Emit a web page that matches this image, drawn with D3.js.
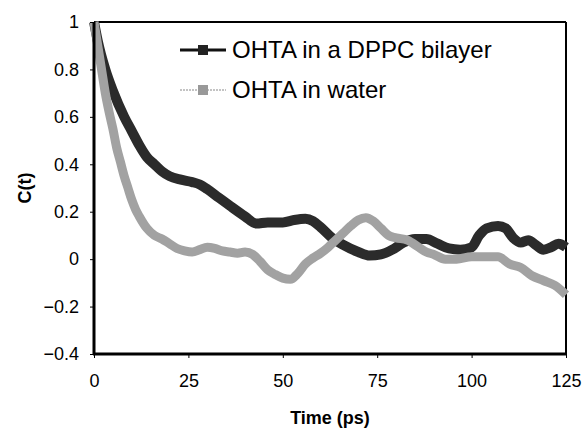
<!DOCTYPE html>
<html>
<head>
<meta charset="utf-8">
<script src="https://cdn.jsdelivr.net/npm/d3@7"></script>
<style>
  body { margin: 0; background: #fff; }
  text { font-family: "Liberation Sans", Arial, sans-serif; }
</style>
</head>
<body>
<script>
// data
const seriesNames = ["OHTA in a DPPC bilayer", "OHTA in water"];
const bilayerT = [0, 1, 3, 5, 8, 10, 12, 14, 16, 18, 20, 23, 26, 28, 30, 33, 36, 40, 43, 46, 50, 53, 56, 58, 60, 63, 66, 70, 73, 76, 79, 82, 85, 88, 91, 94, 97, 100, 102, 104, 107, 109, 111, 113, 115, 117, 119, 121, 123, 125];
const bilayerC = [1.0, 0.92, 0.8, 0.71, 0.6, 0.54, 0.48, 0.43, 0.40, 0.37, 0.35, 0.335, 0.325, 0.315, 0.295, 0.26, 0.225, 0.18, 0.15, 0.155, 0.155, 0.165, 0.17, 0.16, 0.135, 0.09, 0.06, 0.03, 0.015, 0.02, 0.04, 0.07, 0.085, 0.085, 0.065, 0.045, 0.04, 0.05, 0.1, 0.13, 0.14, 0.13, 0.09, 0.07, 0.08, 0.06, 0.04, 0.05, 0.065, 0.05];
const waterT = [0, 1, 2, 3, 4, 5, 6, 7, 8, 9, 10, 11, 12, 14, 16, 18, 20, 22, 24, 26, 28, 30, 32, 34, 36, 38, 40, 42, 44, 46, 48, 50, 52, 54, 56, 58, 60, 62, 64, 66, 68, 70, 72, 74, 76, 78, 80, 83, 86, 88, 90, 93, 96, 100, 104, 107, 110, 113, 116, 119, 122, 125];
const waterC = [1.0, 0.9, 0.8, 0.7, 0.62, 0.55, 0.47, 0.41, 0.35, 0.3, 0.25, 0.21, 0.18, 0.13, 0.1, 0.085, 0.065, 0.045, 0.035, 0.03, 0.04, 0.05, 0.045, 0.035, 0.03, 0.025, 0.03, 0.02, -0.01, -0.045, -0.065, -0.08, -0.085, -0.06, -0.02, 0.005, 0.025, 0.05, 0.08, 0.11, 0.14, 0.165, 0.175, 0.16, 0.13, 0.1, 0.09, 0.08, 0.05, 0.03, 0.02, 0.0, 0.0, 0.01, 0.01, 0.01, -0.02, -0.035, -0.07, -0.09, -0.11, -0.15];
const xTicks = [0, 25, 50, 75, 100, 125];
const yTicks = [-0.4, -0.2, 0, 0.2, 0.4, 0.6, 0.8, 1];

const WIDTH = 584;
const HEIGHT = 428;
const LEFT = 94, RIGHT = 566, TOP = 22, BOTTOM = 354;

const svg = d3.select("body").append("svg")
  .attr("width", WIDTH)
  .attr("height", HEIGHT);

const xScale = d3.scaleLinear().domain([0, 125]).range([LEFT, RIGHT]);
const yScale = d3.scaleLinear().domain([-0.4, 1]).range([BOTTOM, TOP]);

const line = d3.line()
  .x(d => xScale(d[0]))
  .y(d => yScale(d[1]))
  .curve(d3.curveMonotoneX);

const bilayer = bilayerT.map((t, i) => [t, bilayerC[i]]);
const water = waterT.map((t, i) => [t, waterC[i]]);

// frame top and right
svg.append("line")
  .attr("x1", LEFT).attr("x2", RIGHT).attr("y1", TOP).attr("y2", TOP)
  .attr("stroke", "#000").attr("stroke-width", 2);
svg.append("line")
  .attr("x1", RIGHT).attr("x2", RIGHT).attr("y1", TOP).attr("y2", BOTTOM)
  .attr("stroke", "#000").attr("stroke-width", 2);

svg.append("path")
  .datum(bilayer)
  .attr("d", line)
  .attr("fill", "none")
  .attr("stroke", "#2b2b2b")
  .attr("stroke-width", 10)
  .attr("stroke-linejoin", "round");

svg.append("path")
  .datum(water)
  .attr("d", line)
  .attr("fill", "none")
  .attr("stroke", "#a2a2a2")
  .attr("stroke-width", 9)
  .attr("stroke-linejoin", "round");

const xAxis = d3.axisBottom(xScale).tickValues(xTicks).tickSize(4).tickPadding(16).tickFormat(d3.format("d"));
const yAxis = d3.axisLeft(yScale).tickValues(yTicks).tickSize(4).tickPadding(11).tickFormat(d => d === 0 || d === 1 ? d : d3.format(".1f")(d));

const gx = svg.append("g")
  .attr("transform", "translate(0," + BOTTOM + ")")
  .call(xAxis);
const gy = svg.append("g")
  .attr("transform", "translate(" + LEFT + ",0)")
  .call(yAxis);

[gx, gy].forEach(g => {
  g.select(".domain").attr("stroke", "#000").attr("stroke-width", 3);
  g.selectAll(".tick line").attr("stroke", "#000");
  g.selectAll(".tick text").attr("font-size", 18).attr("fill", "#000")
    .attr("font-family", "'Liberation Sans', Arial, sans-serif");
});
gx.select(".domain").attr("d", "M" + (LEFT - 1) + ",0H" + (RIGHT + 1));
gy.select(".domain").attr("d", "M0," + (BOTTOM + 1) + "V" + TOP);

// axis titles
svg.append("text")
  .attr("x", (LEFT + RIGHT) / 2)
  .attr("y", 424)
  .attr("text-anchor", "middle")
  .attr("font-size", 18)
  .attr("font-weight", "bold")
  .text("Time (ps)");

svg.append("text")
  .attr("transform", "translate(31," + (TOP + BOTTOM) / 2 + ") rotate(-90)")
  .attr("text-anchor", "middle")
  .attr("font-size", 18)
  .attr("font-weight", "bold")
  .text("C(t)");

// legend
const legend = svg.append("g");
const legendY = [50, 90];
legend.append("line")
  .attr("x1", 180).attr("x2", 226).attr("y1", legendY[0]).attr("y2", legendY[0])
  .attr("stroke", "#111").attr("stroke-width", 3);
legend.append("rect")
  .attr("x", 198).attr("y", legendY[0] - 5).attr("width", 10).attr("height", 10)
  .attr("fill", "#222");
legend.append("line")
  .attr("x1", 180).attr("x2", 226).attr("y1", legendY[1]).attr("y2", legendY[1])
  .attr("stroke", "#888").attr("stroke-width", 1).attr("stroke-dasharray", "2,1");
legend.append("rect")
  .attr("x", 198).attr("y", legendY[1] - 5).attr("width", 10).attr("height", 10)
  .attr("fill", "#999");
legend.selectAll("text.lab")
  .data(seriesNames)
  .enter()
  .append("text")
  .attr("class", "lab")
  .attr("x", 232)
  .attr("y", (d, i) => legendY[i] + 8)
  .attr("font-size", 24)
  .attr("fill", "#000")
  .text(d => d);
</script>
</body>
</html>
